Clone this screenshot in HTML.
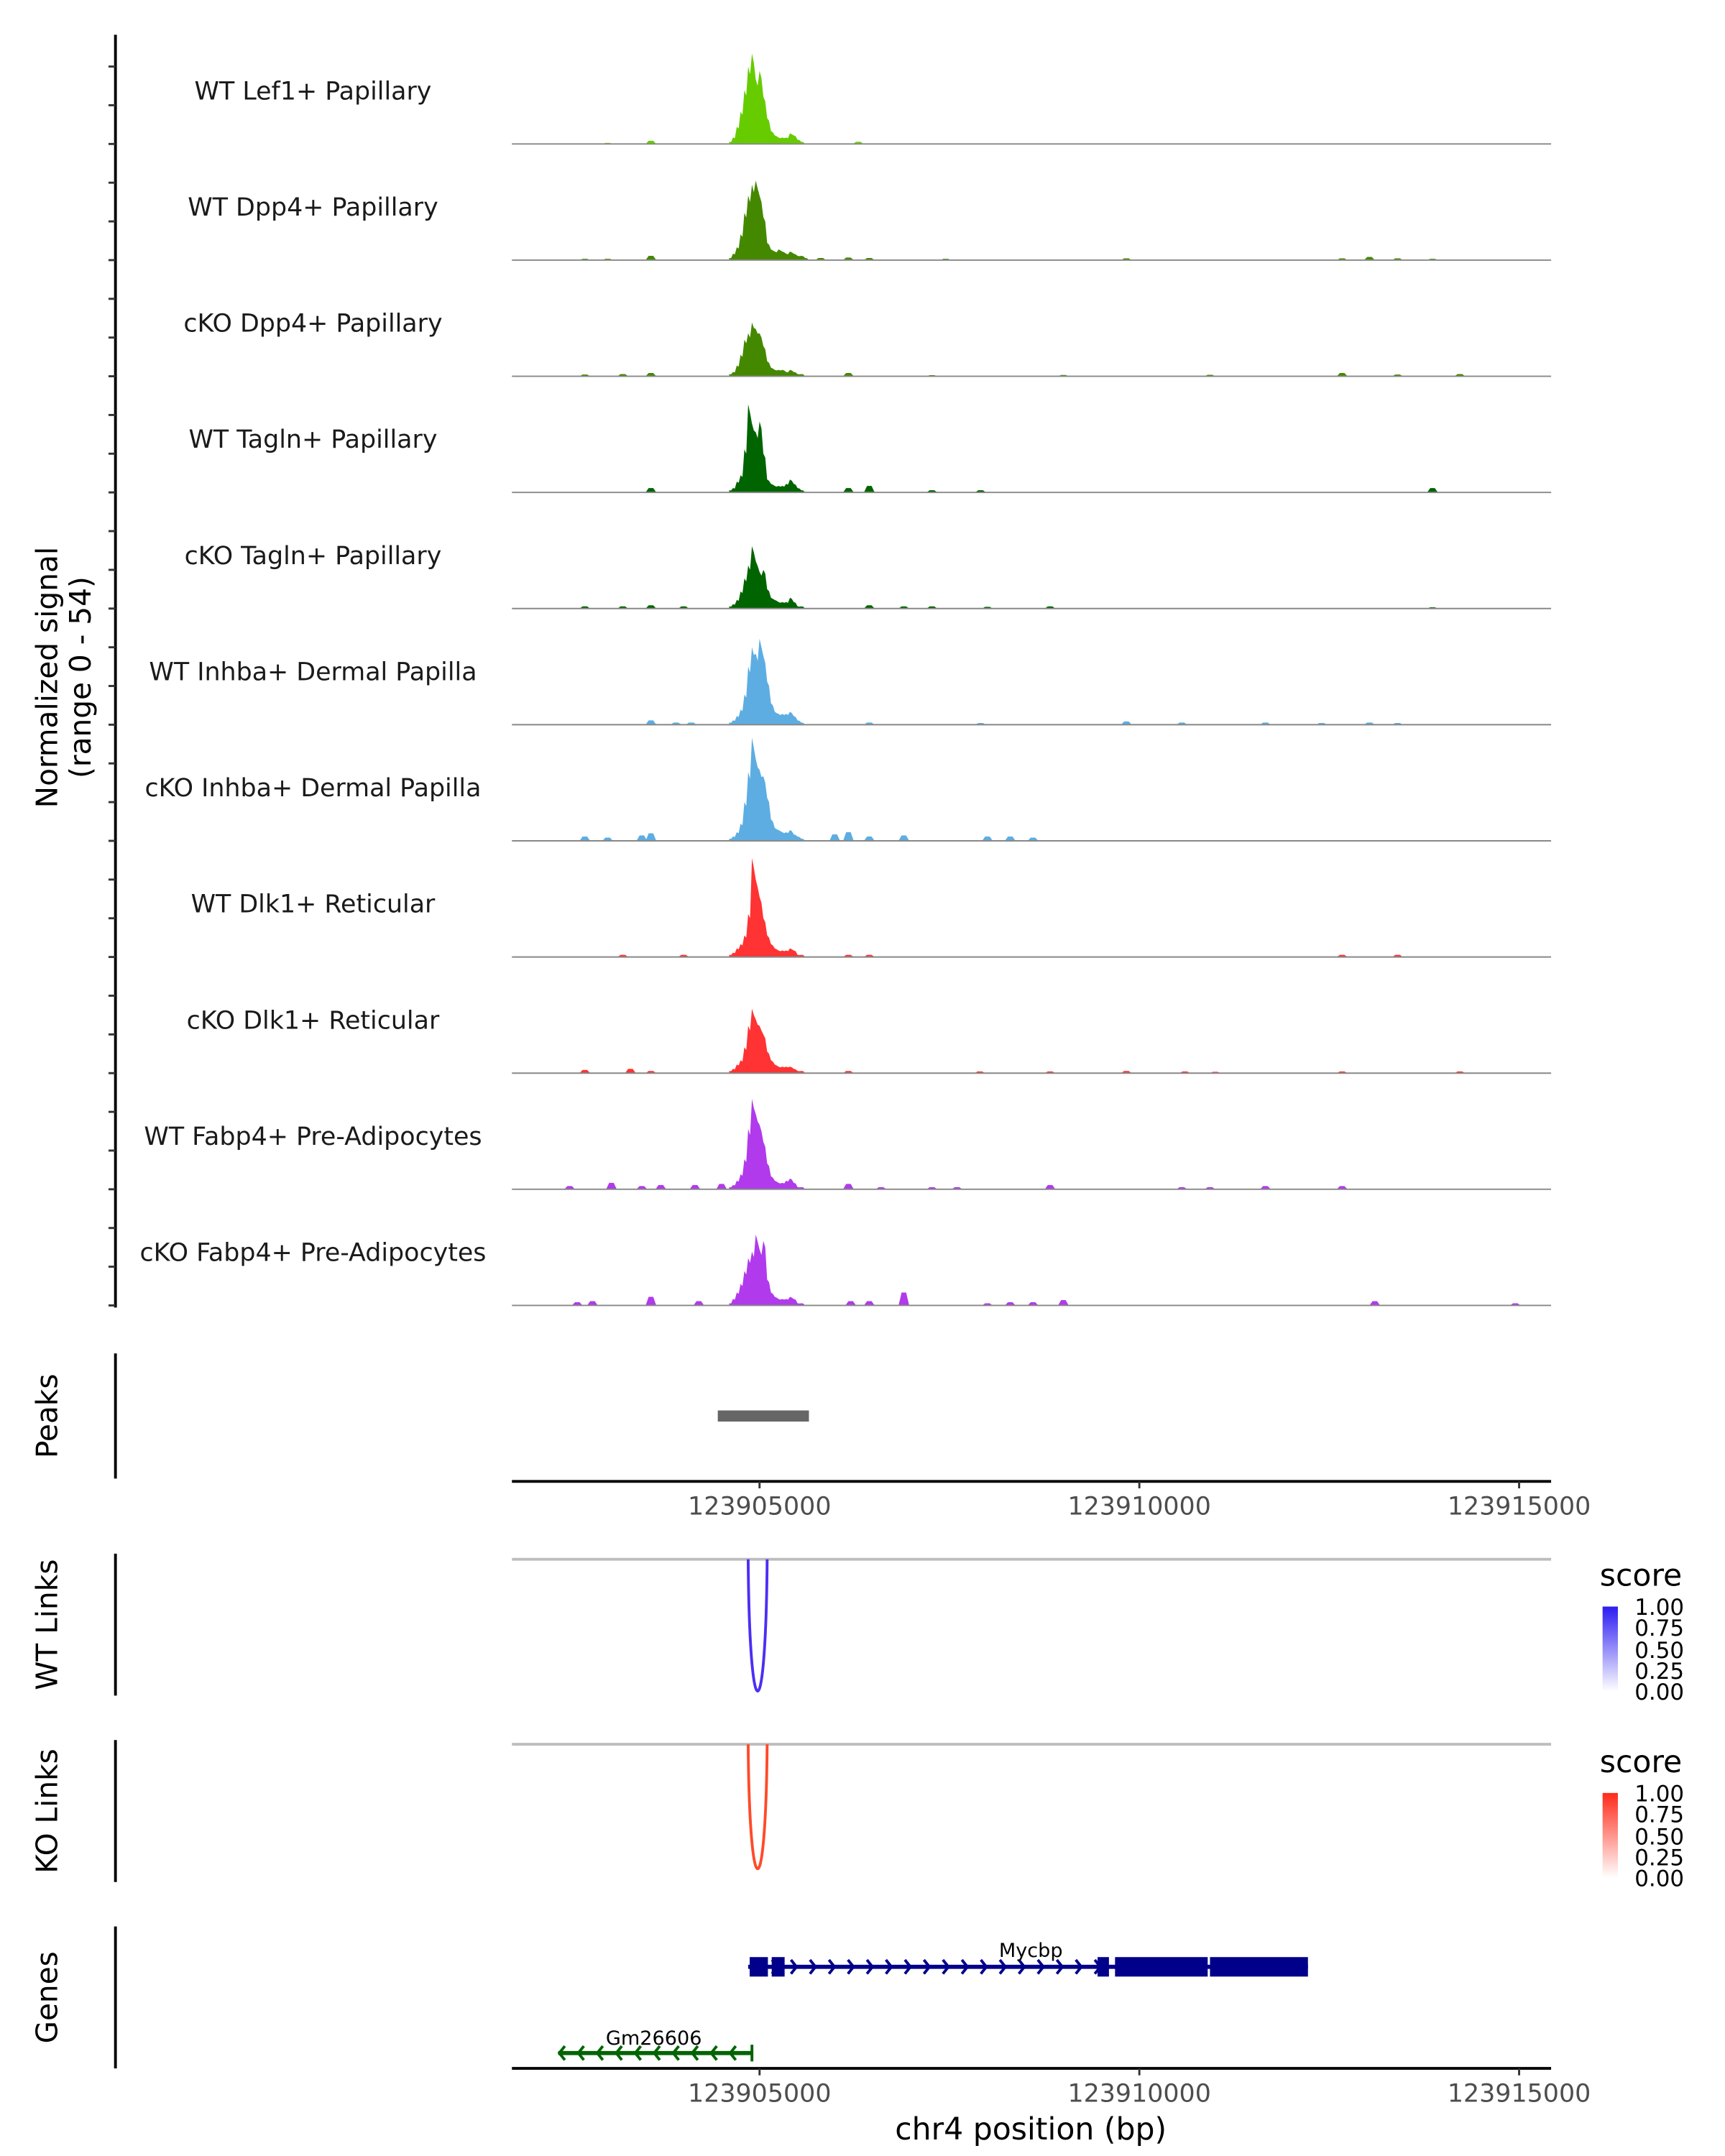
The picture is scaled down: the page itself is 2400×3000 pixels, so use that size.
<!DOCTYPE html>
<html><head><meta charset="utf-8"><style>
html,body{margin:0;padding:0;background:#fff;}
svg{display:block;font-family:"DejaVu Sans","Liberation Sans",sans-serif;}
</style></head><body>
<svg id="chart" width="2400" height="3000" viewBox="0 0 1240 1550" xmlns="http://www.w3.org/2000/svg">
<defs>
<linearGradient id="gBlue" x1="0" y1="1" x2="0" y2="0"><stop offset="0" stop-color="#ffffff"/><stop offset="1" stop-color="#2b1cf2"/></linearGradient>
<linearGradient id="gRed" x1="0" y1="1" x2="0" y2="0"><stop offset="0" stop-color="#ffffff"/><stop offset="1" stop-color="#ff2a1a"/></linearGradient>
</defs>
<g id="tracks"></g>
<text transform="translate(41,487) rotate(-90)" text-anchor="middle" font-size="21" fill="#000">Normalized signal</text>
<text transform="translate(65,487) rotate(-90)" text-anchor="middle" font-size="21" fill="#000">(range 0 - 54)</text>
<line x1="83" y1="25" x2="83" y2="940" stroke="#000" stroke-width="2"/>
<g id="yticks"></g>
<line x1="83" y1="973" x2="83" y2="1063" stroke="#000" stroke-width="2"/>
<text transform="translate(41,1018) rotate(-90)" text-anchor="middle" font-size="21">Peaks</text>
<rect id="peakbar" y="1014" height="8" fill="#666"/>
<g id="xaxis1"></g>
<line x1="83" y1="1117" x2="83" y2="1219" stroke="#000" stroke-width="2"/>
<text transform="translate(41,1168) rotate(-90)" text-anchor="middle" font-size="21">WT Links</text>
<line x1="368" y1="1121" x2="1115" y2="1121" stroke="#bdbdbd" stroke-width="2"/>
<path id="wtArc" fill="none" stroke="#4b2ef5" stroke-width="2"/>
<text x="1150" y="1140" font-size="22">score</text>
<rect x="1152" y="1155" width="11" height="61" fill="url(#gBlue)"/>
<g font-size="16">
<text x="1175" y="1161">1.00</text><text x="1175" y="1176">0.75</text><text x="1175" y="1192">0.50</text><text x="1175" y="1207">0.25</text><text x="1175" y="1222">0.00</text></g>
<line x1="83" y1="1251" x2="83" y2="1353" stroke="#000" stroke-width="2"/>
<text transform="translate(41,1302) rotate(-90)" text-anchor="middle" font-size="21">KO Links</text>
<line x1="368" y1="1254" x2="1115" y2="1254" stroke="#bdbdbd" stroke-width="2"/>
<path id="koArc" fill="none" stroke="#ff4a2a" stroke-width="2"/>
<text x="1150" y="1274" font-size="22">score</text>
<rect x="1152" y="1289" width="11" height="61" fill="url(#gRed)"/>
<g font-size="16">
<text x="1175" y="1295">1.00</text><text x="1175" y="1310">0.75</text><text x="1175" y="1326">0.50</text><text x="1175" y="1341">0.25</text><text x="1175" y="1356">0.00</text></g>
<line x1="83" y1="1385" x2="83" y2="1487" stroke="#000" stroke-width="2"/>
<text transform="translate(41,1436) rotate(-90)" text-anchor="middle" font-size="21">Genes</text>
<g id="genes"></g>
<g id="xaxis2"></g>
<text x="741" y="1538" text-anchor="middle" font-size="22">chr4 position (bp)</text>
</svg>
<script>
const names = ["WT Lef1+ Papillary","WT Dpp4+ Papillary","cKO Dpp4+ Papillary","WT Tagln+ Papillary","cKO Tagln+ Papillary","WT Inhba+ Dermal Papilla","cKO Inhba+ Dermal Papilla","WT Dlk1+ Reticular","cKO Dlk1+ Reticular","WT Fabp4+ Pre-Adipocytes","cKO Fabp4+ Pre-Adipocytes"];
const colors = ["#66cc00","#448800","#448800","#006400","#006400","#5dade2","#5dade2","#ff3333","#ff3333","#b13aec","#b13aec"];
const peakStart = 123904600;
const peakStep = 50;
const peakValues = [
[1,3,8,15,25,36,42,30,34,22,12,6,4,3,3,3,5,4,2,1,0],
[1,3,6,12,22,30,35,37,30,20,8,5,4,5,4,3,4,3,2,2,1],
[1,2,5,10,17,20,25,22,20,14,7,4,3,3,3,2,3,2,1,1,0],
[1,2,5,8,20,41,32,28,33,18,6,4,3,3,3,4,6,4,2,1,0],
[1,2,4,8,14,20,29,22,17,18,9,5,4,3,3,3,5,3,1,1,0],
[1,2,4,7,14,27,36,33,40,32,20,10,6,5,5,5,6,4,2,1,0],
[1,2,4,8,18,32,48,38,33,30,20,10,6,5,4,4,5,3,2,1,0],
[1,2,4,6,10,20,46,36,28,18,10,6,4,3,3,3,4,3,1,1,0],
[1,2,4,6,12,22,30,25,22,18,10,6,4,3,3,3,3,2,1,1,0],
[1,2,4,7,14,28,42,35,30,22,12,6,4,3,3,4,5,3,1,1,0],
[1,3,6,10,16,22,25,33,26,30,12,6,4,3,3,3,4,3,1,1,0]];
const blipPos = [
[-1430,1300,-2000],
[-1430,-2300,-2000,805,1170,1445,2450,4830,7670,8030,8400,8860],
[-2300,-1800,-1430,1170,2270,4000,5930,7670,8400,9220],
[-1430,1170,1445,2270,2910,8860],
[-1800,-1430,-2300,-1000,1445,1900,2270,3000,3825,8860],
[-1430,-1100,-900,1445,2910,4830,5560,6660,7400,8030,8400],
[-2300,-2000,-1550,-1430,990,1170,1445,1900,3000,3300,3600],
[-1800,-1000,1170,1445,7670,8400],
[-2300,-1700,-1430,1170,2900,3825,4830,5600,6000,7670,9220],
[-2500,-1950,-1550,-1300,-850,-500,1170,1600,2270,2600,3825,5560,5930,6660,7670],
[-2400,-2200,-1430,-800,1200,1445,1900,3000,3300,3600,4000,8100,9950]];
const blipVal = [
[1.5,1,0.5],
[2,0.6,0.6,1,1.2,1,0.6,0.8,0.8,1.5,0.8,0.6],
[0.8,1,1.5,1.5,0.5,0.6,0.7,1.5,0.8,1],
[2,2,3,1,1,2],
[1,1.5,1,1,1.5,1,1,0.8,1,0.6],
[2,1,1,1,0.8,1.5,1,1,0.8,1,0.8],
[2,1.5,2.5,3.5,3,4,2,2.5,2,2,1.5],
[1,1,1,1,1,1],
[1.5,2,1,1,0.8,0.8,1,0.8,0.6,0.8,0.8],
[1.5,3,1.5,2,2,2.5,2.5,1,1,1,2,1,1,1.5,1.5],
[1.5,2,4,2,2,2,6,1,1.5,1.5,2.5,2,1]];
const xTicks = [123905000,123910000,123915000];
const peakRegion = [123904450,123905650];
const linkWT = [123904850,123905100,0.9];
const linkKO = [123904850,123905100,0.85];
const exonsMycbp = [[123904870,123905110],[123905160,123905330],[123909450,123909600],[123909680,123910900],[123910930,123912220]];
const mycbpSpan = [123904850,123912220];
const gmSpan = [123902350,123904900];
const yMax = 54;

const NS="http://www.w3.org/2000/svg";
const X = bp => 546 + (bp-123905000)/5000*273;
const trackH = 83.5, firstBase = 103.5;
function mk(tag, attrs, parent){const e=document.createElementNS(NS,tag);for(const k in attrs)e.setAttribute(k,attrs[k]);parent.appendChild(e);return e;}
const tg=document.getElementById('tracks');
names.forEach((nm,i)=>{
  const base = firstBase + i*trackH;
  const Y = v => base - v/yMax*trackH;
  const g=mk('g',{},tg);
  
  
  blipPos[i].forEach((p,j)=>{
    const bp=123905000+p;
    const b=mk('path',{d:`M${X(bp-70)},${base} L${X(bp-30)},${Y(blipVal[i][j])} L${X(bp+30)},${Y(blipVal[i][j])} L${X(bp+70)},${base} Z`,fill:colors[i]},g);
    
    
  });
  let d=`M${X(peakStart)},${base}`;
  peakValues[i].forEach((v,k)=>{const x0=X(peakStart+k*peakStep),x1=X(peakStart+(k+1)*peakStep);d+=` L${x0},${Y(v)} L${(x0+x1)/2},${Y(v*0.9)}`;});
  d+=` L${X(peakStart+peakValues[i].length*peakStep)},${base} Z`;
  const p=mk('path',{d,fill:colors[i]},g);
  
  
  const bl=mk('line',{x1:368,x2:1115,y1:base,y2:base,stroke:'#888','stroke-width':1},g);
  
  
  const t=mk('text',{x:225,y:base-32,'text-anchor':'middle','font-size':'18',fill:'#1a1a1a'},g);
  
  
  t.textContent=nm;
});
const yt=document.getElementById('yticks');
for(let i=0;i<=33;i++){const y=938.5-i*trackH/3; if(y<40)break;
  const l=mk('line',{x1:78,x2:83,y1:y,y2:y,stroke:'#333','stroke-width':1.5},yt);
  
  }
const pb=document.getElementById('peakbar');
pb.setAttribute('x',X(peakRegion[0]));pb.setAttribute('width',X(peakRegion[1])-X(peakRegion[0]));
function xaxis(id,y){const g=document.getElementById(id);
  mk('line',{x1:368,x2:1115,y1:y,y2:y,stroke:'#000','stroke-width':2},g);
  xTicks.forEach(t=>{const x=X(t);
    const l=mk('line',{x1:x,x2:x,y1:y,y2:y+5,stroke:'#333','stroke-width':1.5},g);
    
    
    const tx=mk('text',{x,y:y+24,'text-anchor':'middle','font-size':'18',fill:'#4d4d4d'},g);
    
    
    tx.textContent=t;});}
xaxis('xaxis1',1065);xaxis('xaxis2',1487);
function arc(id,l,top){const a=X(l[0]),b=X(l[1]);const dep=95*l[2]/0.9;
  document.getElementById(id).setAttribute('d',`M${a},${top} C${a+1},${top+dep*1.33} ${b-1},${top+dep*1.33} ${b},${top}`);}
arc('wtArc',linkWT,1121);arc('koArc',linkKO,1254);
const gg=document.getElementById('genes');
const my=1414;
mk('line',{x1:X(mycbpSpan[0]),x2:X(mycbpSpan[1]),y1:my,y2:my,stroke:'#00008b','stroke-width':3},gg);
for(let bp=mycbpSpan[0]+100;bp<123909600;bp+=250){const x=X(bp);
  mk('path',{d:`M${x-2},${my-5} L${x+2},${my} L${x-2},${my+5}`,fill:'none',stroke:'#00008b','stroke-width':2},gg);}
exonsMycbp.forEach(e=>{const r=mk('rect',{x:X(e[0]),y:my-7,width:X(e[1])-X(e[0]),height:14,fill:'#00008b'},gg);
  
  });
const ml=mk('text',{x:741,y:1407,'text-anchor':'middle','font-size':'14'},gg);


ml.textContent='Mycbp';
const gy=1476;
mk('line',{x1:X(gmSpan[0]),x2:X(gmSpan[1]),y1:gy,y2:gy,stroke:'#006400','stroke-width':3},gg);
for(let bp=gmSpan[0]+50;bp<gmSpan[1]-100;bp+=250){const x=X(bp);
  mk('path',{d:`M${x+2},${gy-5} L${x-2},${gy} L${x+2},${gy+5}`,fill:'none',stroke:'#006400','stroke-width':2},gg);}
mk('line',{x1:X(gmSpan[1]),x2:X(gmSpan[1]),y1:gy-6,y2:gy+6,stroke:'#006400','stroke-width':2},gg);
const gl=mk('text',{x:470,y:1470,'text-anchor':'middle','font-size':'14'},gg);


gl.textContent='Gm26606';
</script>
</body></html>
